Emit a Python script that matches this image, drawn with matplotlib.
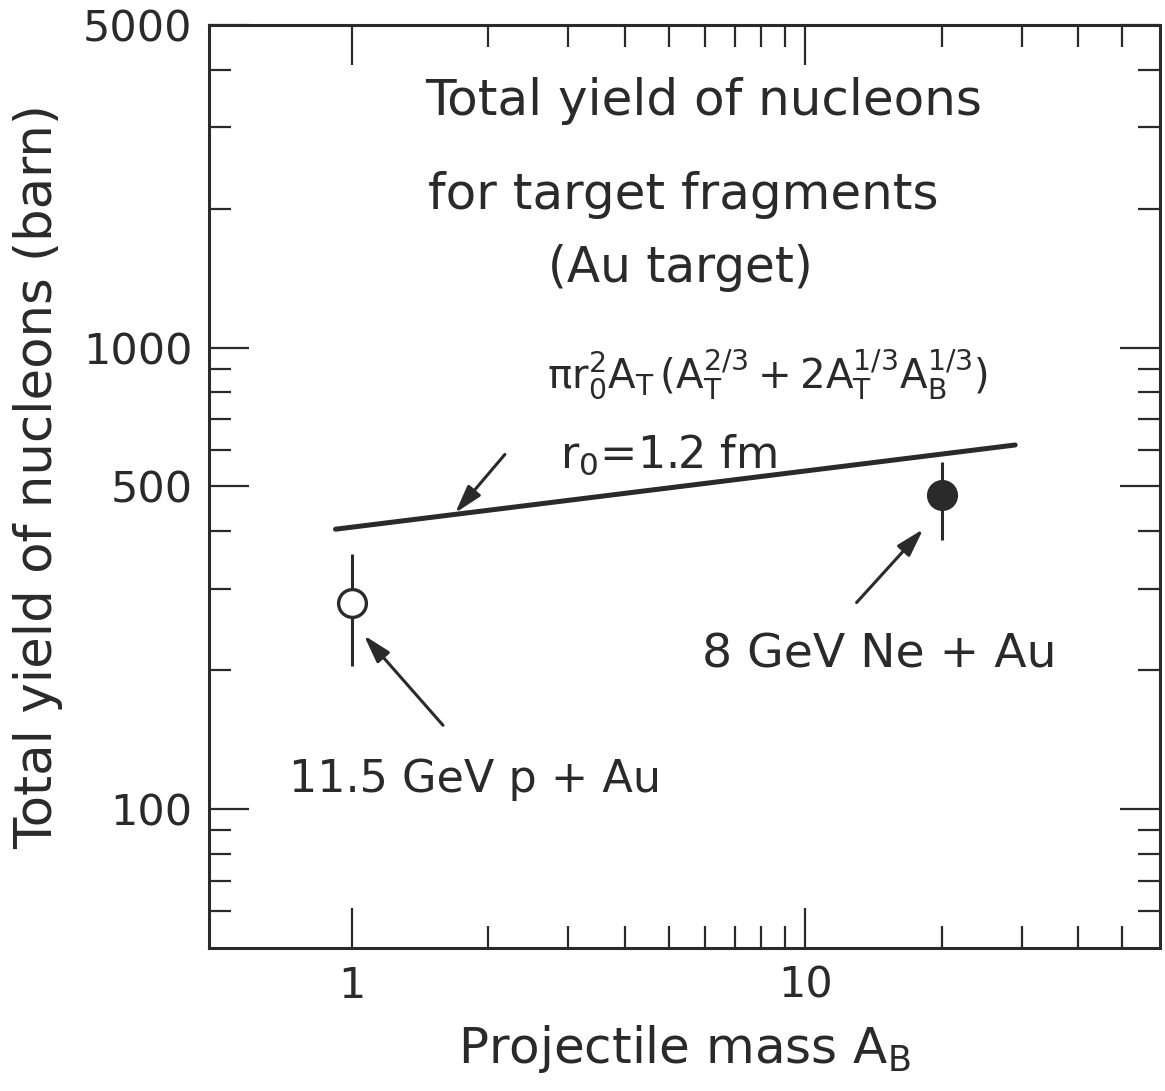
import numpy as np
import matplotlib
matplotlib.use("Agg")
import matplotlib.pyplot as plt
from matplotlib.ticker import FixedLocator, NullFormatter

# data
proj_mass = [1, 20]                 # p, Ne
yield_nucl = [280, 479]
err_lo = [76, 96]
err_hi = [77, 86]
open_marker = [True, False]

# geometric curve pi r0^2 A_T (A_T^2/3 + 2 A_T^1/3 A_B^1/3), end points as drawn
curve_x = [0.92, 29]
curve_y = [404, 615]

plt.rcParams['font.family'] = ['DejaVu Sans']
plt.rcParams['mathtext.default'] = 'regular'

ink = '#2a2a2a'

fig = plt.figure(figsize=(11.65, 10.91), dpi=100)
ax = fig.add_axes([0.1794, 0.1311, 0.8163, 0.846])

ax.set_xscale('log')
ax.set_yscale('log')
ax.set_xlim(0.484, 60.5)
ax.set_ylim(50, 5000)

# theory line
ax.plot(curve_x, curve_y, color=ink, lw=3.6, solid_capstyle='round')

# data points with error bars
for x, y, lo, hi, op in zip(proj_mass, yield_nucl, err_lo, err_hi, open_marker):
    ax.errorbar([x], [y], yerr=[[lo], [hi]], fmt='o', ms=20, lw=2.2,
                color=ink, ecolor=ink, capsize=0,
                mfc='white' if op else ink, mec=ink, mew=2.4, zorder=3)

# ticks
ax.xaxis.set_major_locator(FixedLocator([1, 10]))
ax.xaxis.set_minor_locator(FixedLocator([2, 3, 4, 5, 6, 7, 8, 9, 20, 30, 40, 50]))
ax.set_xticklabels(['1', '10'])
ax.xaxis.set_minor_formatter(NullFormatter())
ax.yaxis.set_major_locator(FixedLocator([100, 500, 1000, 5000]))
ax.yaxis.set_minor_locator(FixedLocator([60, 70, 80, 90, 200, 300, 400, 600, 700, 800, 900,
                                         2000, 3000, 4000]))
ax.set_yticklabels(['100', '500', '1000', '5000'])
ax.yaxis.set_minor_formatter(NullFormatter())

ax.tick_params(which='both', direction='in', top=True, right=True, color=ink, labelcolor=ink)
ax.tick_params(which='major', length=29, width=1.6, labelsize=31, pad=12)
ax.tick_params(which='minor', length=16, width=1.6)
for s in ax.spines.values():
    s.set_linewidth(2.2)
    s.set_color(ink)

ax.set_xlabel(r'Projectile mass $A_B$', fontsize=36, labelpad=12, color=ink)
ax.set_ylabel('Total yield of nucleons (barn)', fontsize=37, color=ink)
ax.yaxis.set_label_coords(-0.153, 0.511)

# annotations
txt = dict(transform=ax.transAxes, ha='center', va='center', color=ink)
ax.text(0.520, 0.918, 'Total yield of nucleons', fontsize=36, **txt)
ax.text(0.499, 0.816, 'for target fragments', fontsize=36, **txt)
ax.text(0.496, 0.737, '(Au target)', fontsize=35, **txt)
ax.text(0.587, 0.622, r'$\pi r_0^2 A_T\,(A_T^{2/3}+2A_T^{1/3}A_B^{1/3})$', fontsize=29, **txt)
ax.text(0.369, 0.534, r'$r_0$=1.2 fm', fontsize=32, transform=ax.transAxes,
        ha='left', va='center', color=ink)
ax.text(0.705, 0.317, '8 GeV Ne + Au', fontsize=34, **txt)
ax.text(0.280, 0.182, '11.5 GeV p + Au', fontsize=32, **txt)

arr = dict(arrowstyle='-|>,head_length=1.7,head_width=0.5', lw=2.2, color=ink)
ax.annotate('', xy=(0.257, 0.469), xytext=(0.313, 0.537), xycoords='axes fraction',
            textcoords='axes fraction', arrowprops=arr)
ax.annotate('', xy=(0.753, 0.456), xytext=(0.679, 0.372), xycoords='axes fraction',
            textcoords='axes fraction', arrowprops=arr)
ax.annotate('', xy=(0.161, 0.341), xytext=(0.248, 0.239), xycoords='axes fraction',
            textcoords='axes fraction', arrowprops=arr)

fig.savefig('out.png', dpi=100)
